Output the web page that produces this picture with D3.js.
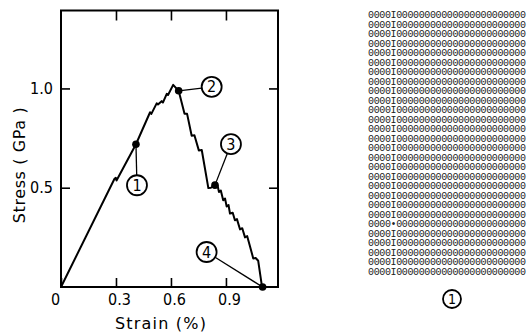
<!DOCTYPE html>
<html><head><meta charset="utf-8">
<script src="https://cdn.jsdelivr.net/npm/d3@7/dist/d3.min.js"></script>
<style>body{margin:0;background:#fff}svg{display:block}</style>
</head><body><svg id="c" width="530" height="335"></svg>
<script>
// ---- data ----
const curveStrain = [0, 0.292, 0.299, 0.303, 0.409, 0.486, 0.493, 0.522, 0.529, 0.549, 0.556, 0.577, 0.584, 0.612,
  0.642, 0.674, 0.688, 0.713, 0.728, 0.752, 0.768, 0.804, 0.818, 0.840,
  0.852, 0.862, 0.872, 0.885, 0.895, 0.904, 0.914, 0.922, 0.937, 0.949, 0.960, 0.977, 0.989, 1.004, 1.016, 1.031, 1.049, 1.062, 1.076, 1.094, 1.100];
const curveStress = [0, 0.545, 0.550, 0.536, 0.719, 0.880, 0.872, 0.925, 0.919, 0.936, 0.929, 0.973, 0.967, 1.018,
  0.988, 0.872, 0.872, 0.762, 0.764, 0.688, 0.690, 0.498, 0.500, 0.513,
  0.520, 0.478, 0.486, 0.437, 0.446, 0.405, 0.413, 0.370, 0.374, 0.336, 0.342, 0.290, 0.296, 0.250, 0.256, 0.205, 0.144, 0.146, 0.132, 0.018, 0];
const markerStrain = [0.409, 0.642, 0.840, 1.100];
const markerStress = [0.719, 0.988, 0.513, 0];
const markerLabels = ["1", "2", "3", "4"];
const xTicks = [0, 0.3, 0.6, 0.9];
const xTickLabels = ["0", "0.3", "0.6", "0.9"];
const yTicks = [0.5, 1.0];
const yTickLabels = ["0.5", "1.0"];
const xTitle = "Strain (%)";
const yTitle = "Stress ( GPa )";
const latticeRowCount = 28;
const latticeCoreRow = 22;
const latticeRowText = "0000I00000000000000000000000";
const latticeCoreText = "0000•00000000000000000000000";
const panelLabel = "1";

// ---- layout ----
const svg = d3.select("#c");
const L = 61, R = 278, T = 10.5, B = 287;
const x = d3.scaleLinear().domain([0, 1.184]).range([L, R]);
const y = d3.scaleLinear().domain([0, 1.3925]).range([B, T]);
const tickFont = "'Liberation Sans Narrow','DejaVu Sans Condensed',sans-serif";
const titleFont = "'DejaVu Sans',sans-serif";

function styleAxis(g) {
  g.select(".domain").remove();
  g.selectAll(".tick line").attr("stroke", "#000").attr("stroke-width", 1.6);
  g.selectAll(".tick text").attr("fill", "#000").attr("font-family", tickFont).attr("font-size", 16);
}

svg.append("g").attr("transform", `translate(0,${B})`)
  .call(d3.axisBottom(x).tickValues(xTicks).tickFormat((d, i) => xTickLabels[i]).tickSizeInner(-9).tickSizeOuter(0).tickPadding(7))
  .call(styleAxis)
  .call(g => g.selectAll(".tick").filter(d => d === 0).select("text").attr("dx", -6))
  .call(g => g.selectAll(".tick").filter(d => d !== 0).select("text").attr("dx", 3));
svg.append("g").attr("transform", `translate(0,${T})`)
  .call(d3.axisTop(x).tickValues(xTicks.filter(d => d > 0)).tickFormat("").tickSizeInner(-10).tickSizeOuter(0))
  .call(styleAxis);
svg.append("g").attr("transform", `translate(${L},0)`)
  .call(d3.axisLeft(y).tickValues(yTicks).tickFormat((d, i) => yTickLabels[i]).tickSizeInner(-9).tickSizeOuter(0).tickPadding(8))
  .call(styleAxis);
svg.append("g").attr("transform", `translate(${R},0)`)
  .call(d3.axisRight(y).tickValues(yTicks).tickFormat("").tickSizeInner(-9).tickSizeOuter(0))
  .call(styleAxis);

svg.append("rect").attr("x", L).attr("y", T).attr("width", R - L).attr("height", B - T)
  .attr("fill", "none").attr("stroke", "#000").attr("stroke-width", 2);

// curve
const pts = curveStrain.map((s, i) => [s, curveStress[i]]);
svg.append("path").datum(pts)
  .attr("d", d3.line().x(d => x(d[0])).y(d => y(d[1])))
  .attr("fill", "none").attr("stroke", "#000").attr("stroke-width", 2).attr("stroke-linejoin", "round");

// annotations
const labelOffsets = [[1, 41], [33, -4], [16, -41], [-56, -35]];
const cr = 10;
markerStrain.forEach((s, i) => {
  const px = x(s), py = y(markerStress[i]);
  const lx = px + labelOffsets[i][0], ly = py + labelOffsets[i][1];
  const dx = px - lx, dy = py - ly, len = Math.hypot(dx, dy);
  svg.append("line").attr("x1", lx + dx / len * cr).attr("y1", ly + dy / len * cr).attr("x2", px).attr("y2", py)
    .attr("stroke", "#000").attr("stroke-width", 1.3);
  svg.append("circle").attr("cx", lx).attr("cy", ly).attr("r", cr).attr("fill", "#fff").attr("stroke", "#000").attr("stroke-width", 1.8);
  svg.append("text").attr("x", lx).attr("y", ly + 5.5).attr("text-anchor", "middle")
    .attr("font-family", tickFont).attr("font-size", 16).text(markerLabels[i]);
  svg.append("circle").attr("cx", px).attr("cy", py).attr("r", 3.8).attr("fill", "#000");
});

// titles
svg.append("text").attr("x", 161).attr("y", 329).attr("text-anchor", "middle")
  .attr("font-family", titleFont).attr("font-size", 16).attr("letter-spacing", 1.2).text(xTitle);
svg.append("text").attr("transform", "translate(25,165) rotate(-90)").attr("text-anchor", "middle")
  .attr("font-family", titleFont).attr("font-size", 16).attr("letter-spacing", 0.6).text(yTitle);

// lattice panel
const rowY = d3.scaleLinear().domain([0, latticeRowCount - 1]).range([14.5, 271]);
const rows = d3.range(latticeRowCount);
svg.append("g").selectAll("text").data(rows).join("text")
  .attr("x", 368).attr("y", d => rowY(d) + 3.5)
  .attr("font-family", "'Liberation Mono','DejaVu Sans Mono',monospace").attr("font-size", 10)
  .attr("textLength", 158).attr("lengthAdjust", "spacing")
  .attr("fill", "#222")
  .text(d => d === latticeCoreRow ? latticeCoreText : latticeRowText);
svg.append("circle").attr("cx", 452).attr("cy", 299).attr("r", 9).attr("fill", "none").attr("stroke", "#000").attr("stroke-width", 1.8);
svg.append("text").attr("x", 452).attr("y", 304).attr("text-anchor", "middle")
  .attr("font-family", tickFont).attr("font-size", 14).text(panelLabel);
</script></body></html>
